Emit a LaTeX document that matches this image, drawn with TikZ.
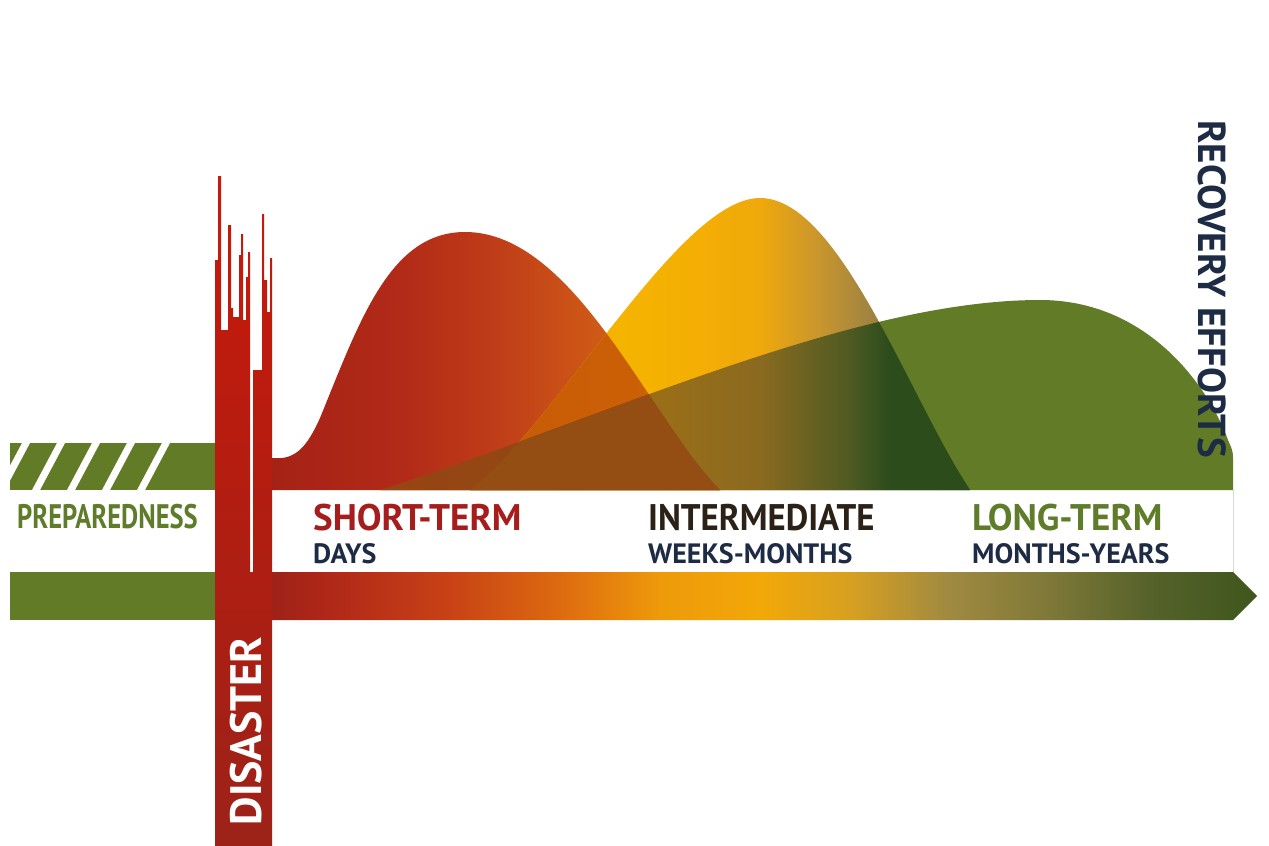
\documentclass[tikz,border=0pt]{standalone}
\usepackage{fontspec}
\setmainfont{PT Sans}
\newfontfamily\phasefont{PT Sans}
\newfontfamily\prepfont[FakeStretch=0.78]{PT Sans}
\newfontfamily\midfont[FakeStretch=0.94]{PT Sans}

\definecolor{prepgreen}{HTML}{627B26}
\definecolor{textgreen}{HTML}{5E7C2A}
\definecolor{textred}{HTML}{A51D1D}
\definecolor{textdark}{HTML}{2B2117}
\definecolor{textnavy}{HTML}{1E2B44}
\definecolor{disastertop}{HTML}{C8190A}
\definecolor{disasterbot}{HTML}{9C2218}

% 时间轴渐变
\definecolor{tla}{HTML}{9E2218}
\definecolor{tlb}{HTML}{B02818}
\definecolor{tlc}{HTML}{C84216}
\definecolor{tld}{HTML}{DD6A10}
\definecolor{tle}{HTML}{EE9A0A}
\definecolor{tlf}{HTML}{F2A808}
\definecolor{tlg}{HTML}{D8A020}
\definecolor{tlh}{HTML}{A08A40}
\definecolor{tli}{HTML}{7E7838}
\definecolor{tlj}{HTML}{55622A}
\definecolor{tlk}{HTML}{3E561C}
\pgfdeclarehorizontalshading{timeline}{100bp}{color(0bp)=(tla); color(25bp)=(tla);
  color(27.9bp)=(tlb); color(34bp)=(tlc); color(39.6bp)=(tld); color(44.7bp)=(tle);
  color(49.8bp)=(tlf); color(54.3bp)=(tlg); color(59.3bp)=(tlh); color(64.5bp)=(tli);
  color(69.6bp)=(tlj); color(75bp)=(tlk); color(100bp)=(tlk)}

% 短期峰
\definecolor{sra}{HTML}{A52216}
\definecolor{srb}{HTML}{B22A18}
\definecolor{src}{HTML}{C03E18}
\definecolor{srd}{HTML}{CF5A16}
\definecolor{sre}{HTML}{D46414}
\pgfdeclarehorizontalshading{shortshade}{100bp}{color(0bp)=(sra); color(25bp)=(sra);
  color(39.3bp)=(srb); color(50.4bp)=(src); color(61.6bp)=(srd); color(75bp)=(sre); color(100bp)=(sre)}
\definecolor{overa}{HTML}{C45608}
\definecolor{overb}{HTML}{CC6206}

% 中期峰
\definecolor{mya}{HTML}{EDA000}
\definecolor{myb}{HTML}{F5B400}
\definecolor{myc}{HTML}{F4AE04}
\definecolor{myd}{HTML}{EFA90C}
\definecolor{mye}{HTML}{C8952E}
\definecolor{myf}{HTML}{A08440}
\definecolor{myg}{HTML}{6A6E34}
\definecolor{myh}{HTML}{3A5022}
\pgfdeclarehorizontalshading{midshade}{100bp}{color(0bp)=(mya); color(25bp)=(mya);
  color(40bp)=(myb); color(48bp)=(myc); color(54bp)=(myd); color(60bp)=(mye);
  color(65bp)=(myf); color(70bp)=(myg); color(75bp)=(myh); color(100bp)=(myh)}
\definecolor{mga}{HTML}{8E4A14}
\definecolor{mgb}{HTML}{9A6E18}
\definecolor{mgc}{HTML}{8A6A20}
\definecolor{mgd}{HTML}{4E5A22}
\definecolor{mge}{HTML}{2C4C1C}
\pgfdeclarehorizontalshading{midlowshade}{100bp}{color(0bp)=(mga); color(25bp)=(mga);
  color(44bp)=(mgb); color(54bp)=(mgc); color(63bp)=(mgd); color(67bp)=(mge); color(100bp)=(mge)}

% 三个峰的轮廓
\newcommand{\shortpath}{(272,490) -- (272,458) -- (282,458) .. controls (300,456) and (310,440) .. (320,418)
  .. controls (360,320) and (390,232) .. (465,232) .. controls (575,232) and (650,420) .. (720,490) -- cycle}
\newcommand{\midpath}{(470,490) .. controls (560,420) and (680,198) .. (760,198)
  .. controls (840,198) and (910,400) .. (970,490) -- cycle}
\newcommand{\longpath}{(380,490) .. controls (600,420) and (850,300) .. (1040,300)
  .. controls (1150,300) and (1210,390) .. (1228,440) .. controls (1231,447) and (1233,450) .. (1233,458)
  -- (1233,490) -- cycle}

\begin{document}
\begin{tikzpicture}[x=1pt,y=-1pt,
    phase/.style={anchor=base west,inner sep=0pt,font=\phasefont\bfseries\fontsize{37}{40}\selectfont},
    period/.style={anchor=base west,inner sep=0pt,text=textnavy,font=\phasefont\bfseries\fontsize{28}{30}\selectfont}]
    % 背景
    \useasboundingbox (0,0) rectangle (1269,846);
    \fill[white] (0,0) rectangle (1269,846);

    % 准备阶段的斜纹带
    \begin{scope}
        \clip (10,443) rectangle (215,490);
        \fill[prepgreen] (10,443) rectangle (215,490);
        \foreach \x in {22,57,92,127,162}
            \fill[white] (\x,443) -- (\x+8,443) -- (\x-17,490) -- (\x-25,490) -- cycle;
    \end{scope}

    % 文字所在的白色带
    \fill[white] (10,490) rectangle (1233,572);
    \draw[black!15] (1233,490) -- (1233,572);

    % 三个恢复阶段的峰
    \fill[prepgreen] \longpath;
    \shade[shading=shortshade] \shortpath;
    \shade[shading=midshade] \midpath;
    \begin{scope}
        \clip \midpath;
        \shade[left color=overa,right color=overb] \shortpath;
    \end{scope}
    \begin{scope}
        \clip \longpath;
        \shade[shading=midlowshade] \midpath;
        \shade[left color=mga!90!red,right color=mga] \shortpath;
    \end{scope}
    \begin{scope}
        \clip \longpath;
        \clip \midpath;
        \fill[mga!95!orange] \shortpath;
    \end{scope}

    % 时间轴箭头
    \fill[prepgreen] (10,572) rectangle (215,620);
    \shade[shading=timeline] (272,572) -- (1233,572) -- (1257,596) -- (1233,620) -- (272,620) -- cycle;

    % 灾难柱
    \shade[top color=disastertop,bottom color=disasterbot]
        (215,846) -- (215,260) -- (218,260) -- (218,176) -- (221,176) -- (221,330) -- (228,330)
        -- (228,225) -- (231,225) -- (231,308) -- (233,308) -- (233,317) -- (239,317) -- (239,255)
        -- (241,255) -- (241,234) -- (243,234) -- (243,320) -- (246,320) -- (246,277) -- (248,277)
        -- (248,252) -- (250,252) -- (250,572) -- (253,572) -- (253,370) -- (262,370) -- (262,214)
        -- (264,214) -- (264,280) -- (267,280) -- (267,312) -- (270,312) -- (270,258) -- (272,258)
        -- (272,846) -- cycle;
    \node[white,rotate=90,font=\phasefont\bfseries\fontsize{44}{46}\selectfont] (disaster) at (246,731) {DISASTER};

    % 阶段文字
    \node[phase,text=textgreen,font=\prepfont\bfseries\fontsize{34}{36}\selectfont] (prep) at (17,528) {PREPAREDNESS};
    \node[phase,text=textred] (short) at (313,530) {SHORT-TERM};
    \node[period] (days) at (313,563) {DAYS};
    \node[phase,text=textdark,font=\midfont\bfseries\fontsize{37}{40}\selectfont] (mid) at (648,530) {INTERMEDIATE};
    \node[period] (weeks) at (648,563) {WEEKS-MONTHS};
    \node[phase,text=textgreen] (long) at (972,530) {LONG-TERM};
    \node[period] (years) at (972,563) {MONTHS-YEARS};
    \node[text=textnavy,rotate=-90,font=\phasefont\bfseries\fontsize{39}{41}\selectfont] (recovery) at (1212,289) {RECOVERY EFFORTS};
\end{tikzpicture}
\end{document}
